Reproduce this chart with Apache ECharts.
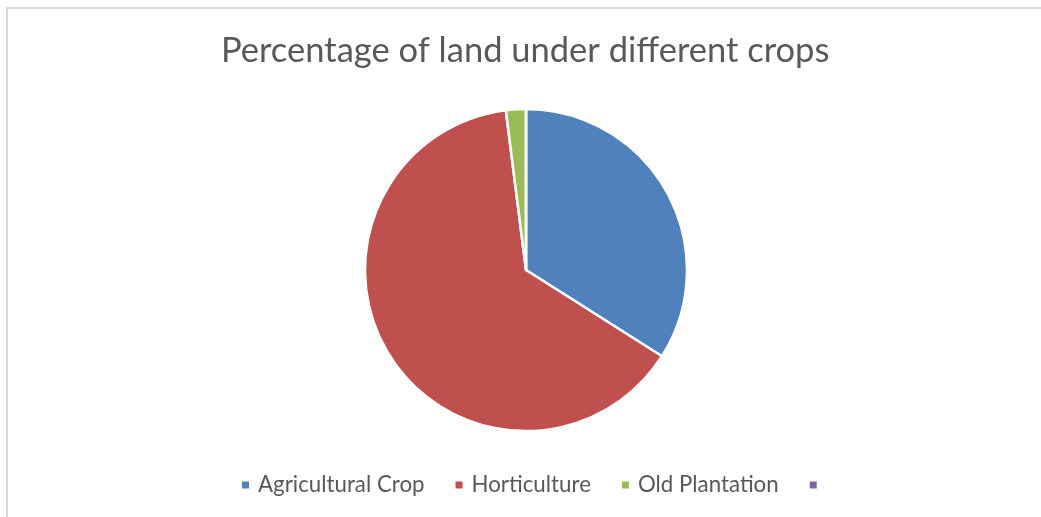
<!DOCTYPE html>
<html>
<head>
<meta charset="utf-8">
<script src="https://cdn.jsdelivr.net/npm/echarts@6/dist/echarts.min.js"></script>
<style>
html,body{margin:0;padding:0;background:#fff;}
#chart{width:1041px;height:517px;}
</style>
</head>
<body>
<div id="chart"></div>
<script>
const titleText = 'Percentage of land under different crops';
const categories = ['Agricultural Crop', 'Horticulture', 'Old Plantation', ' '];
const values = [34, 64, 2, 0];
const colors = ['#4F81BD', '#C0504D', '#9BBB59', '#8064A2'];

const chart = echarts.init(document.getElementById('chart'), null, {renderer: 'canvas'});
const FONT = 'Lato, "Open Sans", sans-serif';
chart.setOption({
  animation: false,
  backgroundColor: '#ffffff',
  color: colors,
  title: {
    text: titleText,
    left: 221,
    top: 33,
    padding: 0,
    textStyle: {fontFamily: FONT, fontSize: 34.5, fontWeight: 'normal', color: '#595959'}
  },
  legend: {
    data: categories,
    top: 474,
    left: 240,
    padding: 0,
    icon: 'rect',
    itemWidth: 9,
    itemHeight: 9,
    itemGap: 29,
    textStyle: {fontFamily: FONT, fontSize: 22.3, color: '#595959', padding: [0, 0, 0, 3]}
  },
  graphic: [{
    type: 'rect',
    silent: true,
    shape: {x: 7, y: 8, width: 1200, height: 700},
    style: {fill: 'none', stroke: '#d9d9d9', lineWidth: 2}
  }],
  series: [{
    type: 'pie',
    center: [526, 270],
    radius: 161,
    startAngle: 90,
    clockwise: true,
    label: {show: false},
    labelLine: {show: false},
    emphasis: {disabled: true},
    itemStyle: {borderColor: '#ffffff', borderWidth: 2.5},
    data: categories.map((c, i) => ({name: c, value: values[i]}))
  }]
});
</script>
</body>
</html>
